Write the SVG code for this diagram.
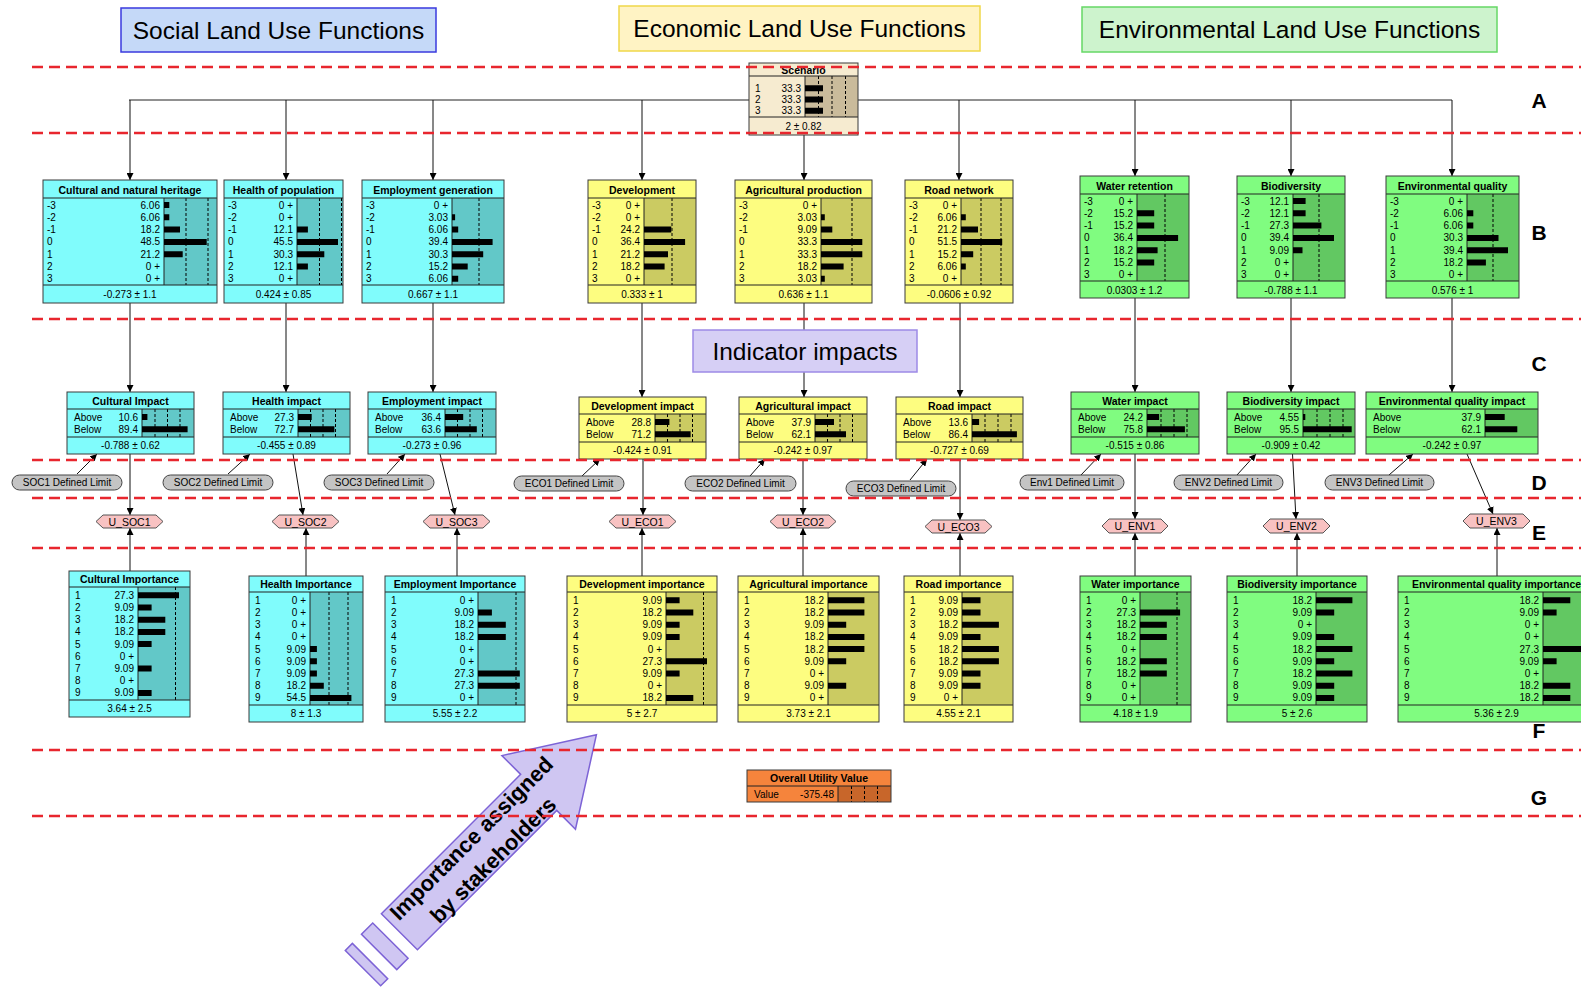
<svg xmlns="http://www.w3.org/2000/svg" width="1581" height="988" viewBox="0 0 1581 988">
<defs>
<marker id="ah" viewBox="0 0 10 10" refX="10" refY="5" markerWidth="7" markerHeight="7" orient="auto" markerUnits="userSpaceOnUse"><path d="M0,0 L10,5 L0,10 z" fill="#000"/></marker>
<style>
.t{font-family:"Liberation Sans",Arial,sans-serif;font-size:10px;fill:#000}
.tb{font-weight:bold;font-size:10.5px;text-anchor:middle}
.r{text-anchor:end}
.m{text-anchor:middle}
.nb{fill:none;stroke:#3a3a3a;stroke-width:1}
.soc{fill:#80fcfc}.socd{fill:#62c8c8}
.eco{fill:#fdfd80}.ecod{fill:#cbcb62}
.env{fill:#80fc80}.envd{fill:#62c862}
.ln{stroke:#222;stroke-width:1;fill:none}
.dl{stroke:#000;stroke-width:1;stroke-dasharray:3 2;fill:none}
.bar{fill:#000}
.cn{stroke:#111;stroke-width:1;fill:none;marker-end:url(#ah)}
.red{stroke:#e8262e;stroke-width:2.5;stroke-dasharray:11 6;fill:none}
.hex{fill:#f8c2c2;stroke:#555;stroke-width:1}
.pill{fill:#c4c4c4;stroke:#444;stroke-width:1}
.hd{font-family:"Liberation Sans",Arial,sans-serif;font-size:24.5px;text-anchor:middle;fill:#000}
.lt{font-family:"Liberation Sans",Arial,sans-serif;font-size:21px;font-weight:bold;text-anchor:middle;fill:#000}
.ut{font-family:"Liberation Sans",Arial,sans-serif;font-size:10.5px;text-anchor:middle;fill:#000}
</style>
</defs>
<rect width="1581" height="988" fill="#fff"/>

<g id="connectors">
<path class="ln" d="M129,100H1452"/>
<path class="cn" d="M130,100V180"/>
<path class="cn" d="M286,100V180"/>
<path class="cn" d="M433,100V180"/>
<path class="cn" d="M642,100V180"/>
<path class="cn" d="M804,135V180"/>
<path class="cn" d="M959,100V180"/>
<path class="cn" d="M1135,100V176"/>
<path class="cn" d="M1291,100V176"/>
<path class="cn" d="M1452,100V176"/>
<path class="cn" d="M130,303V392"/>
<path class="cn" d="M286,303V392"/>
<path class="cn" d="M433,303V392"/>
<path class="cn" d="M642,303V397"/>
<path class="cn" d="M804,303V397"/>
<path class="cn" d="M960,303V397"/>
<path class="cn" d="M1135,298V392"/>
<path class="cn" d="M1291,298V392"/>
<path class="cn" d="M1452,298V392"/>
<path class="cn" d="M130,454V515"/>
<path class="cn" d="M293,454L303,515"/>
<path class="cn" d="M440,454L455,515"/>
<path class="cn" d="M643,459V515"/>
<path class="cn" d="M803,459V515"/>
<path class="cn" d="M960,459V520"/>
<path class="cn" d="M1135,454V519"/>
<path class="cn" d="M1292.5,454L1296,519"/>
<path class="cn" d="M1467,454L1493,514"/>
<path class="cn" d="M130,571V528"/>
<path class="cn" d="M306,576V528"/>
<path class="cn" d="M457,576V528"/>
<path class="cn" d="M642,576V528"/>
<path class="cn" d="M803,576V528"/>
<path class="cn" d="M960,576V533"/>
<path class="cn" d="M1135,576V533"/>
<path class="cn" d="M1297,576V533"/>
<path class="cn" d="M1497,576V528"/>
<path class="cn" d="M77,474L97,454"/>
<path class="cn" d="M228,474L250,454"/>
<path class="cn" d="M387,474L405,454"/>
<path class="cn" d="M582,476L600,459"/>
<path class="cn" d="M750,476L765,459"/>
<path class="cn" d="M910,480L927,459"/>
<path class="cn" d="M1081,475L1101,454"/>
<path class="cn" d="M1237,475L1256,454"/>
<path class="cn" d="M1389,475L1413,454"/>
</g>

<g id="scenario" transform="translate(749,63)">
<rect width="109" height="72" fill="#f6ebd0"/>
<rect x="56" y="13" width="53" height="41" fill="#cabb9b"/>
<path class="dl" d="M69.5,13V54M83,13V54M96.5,13V54"/>
<path class="ln" d="M0,13H109M0,54H109M56,13V54"/>
<path class="bar" d="M56,22.3h18v6h-18zM56,33.5h18v6h-18zM56,44.7h18v6h-18z"/>
<text class="t tb" x="54.5" y="10.5">Scenario</text>
<text class="t" x="6" y="28.8">1<tspan x="6" dy="11.2">2</tspan><tspan x="6" dy="11.2">3</tspan></text>
<text class="t r" x="52" y="28.8">33.3<tspan x="52" dy="11.2">33.3</tspan><tspan x="52" dy="11.2">33.3</tspan></text>
<text class="t m" x="54.5" y="67">2 ± 0.82</text>
<rect class="nb" width="109" height="72"/>
</g>

<g id="cultural-heritage" transform="translate(43,180)">
<rect class="soc" width="174" height="123"/>
<rect class="socd" x="121" y="18" width="53" height="87"/>
<path class="dl" d="M143,18V105M165,18V105"/>
<path class="ln" d="M0,18H174M0,105H174M121,18V105"/>
<path class="bar" d="M121,22h5.3v6h-5.3zM121,34.3h5.3v6h-5.3zM121,46.6h16v6h-16zM121,58.9h42.7v6h-42.7zM121,71.2h18.7v6h-18.7z"/>
<text class="t tb" x="87" y="13.5">Cultural and natural heritage</text>
<text class="t" x="4" y="28.5">-3<tspan x="4" dy="12.3">-2</tspan><tspan x="4" dy="12.3">-1</tspan><tspan x="4" dy="12.3">0</tspan><tspan x="4" dy="12.3">1</tspan><tspan x="4" dy="12.3">2</tspan><tspan x="4" dy="12.3">3</tspan></text>
<text class="t r" x="117" y="28.5">6.06<tspan x="117" dy="12.3">6.06</tspan><tspan x="117" dy="12.3">18.2</tspan><tspan x="117" dy="12.3">48.5</tspan><tspan x="117" dy="12.3">21.2</tspan><tspan x="117" dy="12.3">0 +</tspan><tspan x="117" dy="12.3">0 +</tspan></text>
<text class="t m" x="87" y="118">-0.273 ± 1.1</text>
<rect class="nb" width="174" height="123"/>
</g>

<g id="health-population" transform="translate(224,180)">
<rect class="soc" width="119" height="123"/>
<rect class="socd" x="73" y="18" width="46" height="87"/>
<path class="dl" d="M95.5,18V105M117.5,18V105"/>
<path class="ln" d="M0,18H119M0,105H119M73,18V105"/>
<path class="bar" d="M73,46.6h10.9v6h-10.9zM73,58.9h41v6h-41zM73,71.2h27.3v6h-27.3zM73,83.5h10.9v6h-10.9z"/>
<text class="t tb" x="59.5" y="13.5">Health of population</text>
<text class="t" x="4" y="28.5">-3<tspan x="4" dy="12.3">-2</tspan><tspan x="4" dy="12.3">-1</tspan><tspan x="4" dy="12.3">0</tspan><tspan x="4" dy="12.3">1</tspan><tspan x="4" dy="12.3">2</tspan><tspan x="4" dy="12.3">3</tspan></text>
<text class="t r" x="69" y="28.5">0 +<tspan x="69" dy="12.3">0 +</tspan><tspan x="69" dy="12.3">12.1</tspan><tspan x="69" dy="12.3">45.5</tspan><tspan x="69" dy="12.3">30.3</tspan><tspan x="69" dy="12.3">12.1</tspan><tspan x="69" dy="12.3">0 +</tspan></text>
<text class="t m" x="59.5" y="118">0.424 ± 0.85</text>
<rect class="nb" width="119" height="123"/>
</g>

<g id="employment-generation" transform="translate(362,180)">
<rect class="soc" width="142" height="123"/>
<rect class="socd" x="90" y="18" width="52" height="87"/>
<path class="dl" d="M117,18V105"/>
<path class="ln" d="M0,18H142M0,105H142M90,18V105"/>
<path class="bar" d="M90,34.3h3.1v6h-3.1zM90,46.6h6.2v6h-6.2zM90,58.9h40.6v6h-40.6zM90,71.2h31.2v6h-31.2zM90,83.5h15.7v6h-15.7zM90,95.8h6.2v6h-6.2z"/>
<text class="t tb" x="71" y="13.5">Employment generation</text>
<text class="t" x="4" y="28.5">-3<tspan x="4" dy="12.3">-2</tspan><tspan x="4" dy="12.3">-1</tspan><tspan x="4" dy="12.3">0</tspan><tspan x="4" dy="12.3">1</tspan><tspan x="4" dy="12.3">2</tspan><tspan x="4" dy="12.3">3</tspan></text>
<text class="t r" x="86" y="28.5">0 +<tspan x="86" dy="12.3">3.03</tspan><tspan x="86" dy="12.3">6.06</tspan><tspan x="86" dy="12.3">39.4</tspan><tspan x="86" dy="12.3">30.3</tspan><tspan x="86" dy="12.3">15.2</tspan><tspan x="86" dy="12.3">6.06</tspan></text>
<text class="t m" x="71" y="118">0.667 ± 1.1</text>
<rect class="nb" width="142" height="123"/>
</g>

<g id="development" transform="translate(588,180)">
<rect class="eco" width="108" height="123"/>
<rect class="ecod" x="56" y="18" width="52" height="87"/>
<path class="dl" d="M84,18V105"/>
<path class="ln" d="M0,18H108M0,105H108M56,18V105"/>
<path class="bar" d="M56,46.6h27.3v6h-27.3zM56,58.9h41.1v6h-41.1zM56,71.2h24v6h-24zM56,83.5h20.6v6h-20.6z"/>
<text class="t tb" x="54" y="13.5">Development</text>
<text class="t" x="4" y="28.5">-3<tspan x="4" dy="12.3">-2</tspan><tspan x="4" dy="12.3">-1</tspan><tspan x="4" dy="12.3">0</tspan><tspan x="4" dy="12.3">1</tspan><tspan x="4" dy="12.3">2</tspan><tspan x="4" dy="12.3">3</tspan></text>
<text class="t r" x="52" y="28.5">0 +<tspan x="52" dy="12.3">0 +</tspan><tspan x="52" dy="12.3">24.2</tspan><tspan x="52" dy="12.3">36.4</tspan><tspan x="52" dy="12.3">21.2</tspan><tspan x="52" dy="12.3">18.2</tspan><tspan x="52" dy="12.3">0 +</tspan></text>
<text class="t m" x="54" y="118">0.333 ± 1</text>
<rect class="nb" width="108" height="123"/>
</g>

<g id="agricultural-production" transform="translate(735,180)">
<rect class="eco" width="137" height="123"/>
<rect class="ecod" x="86" y="18" width="51" height="87"/>
<path class="dl" d="M117,18V105"/>
<path class="ln" d="M0,18H137M0,105H137M86,18V105"/>
<path class="bar" d="M86,34.3h3.8v6h-3.8zM86,46.6h11.3v6h-11.3zM86,58.9h41.3v6h-41.3zM86,71.2h41.3v6h-41.3zM86,83.5h22.6v6h-22.6zM86,95.8h3.8v6h-3.8z"/>
<text class="t tb" x="68.5" y="13.5">Agricultural production</text>
<text class="t" x="4" y="28.5">-3<tspan x="4" dy="12.3">-2</tspan><tspan x="4" dy="12.3">-1</tspan><tspan x="4" dy="12.3">0</tspan><tspan x="4" dy="12.3">1</tspan><tspan x="4" dy="12.3">2</tspan><tspan x="4" dy="12.3">3</tspan></text>
<text class="t r" x="82" y="28.5">0 +<tspan x="82" dy="12.3">3.03</tspan><tspan x="82" dy="12.3">9.09</tspan><tspan x="82" dy="12.3">33.3</tspan><tspan x="82" dy="12.3">33.3</tspan><tspan x="82" dy="12.3">18.2</tspan><tspan x="82" dy="12.3">3.03</tspan></text>
<text class="t m" x="68.5" y="118">0.636 ± 1.1</text>
<rect class="nb" width="137" height="123"/>
</g>

<g id="road-network" transform="translate(905,180)">
<rect class="eco" width="108" height="123"/>
<rect class="ecod" x="56" y="18" width="52" height="87"/>
<path class="dl" d="M76,18V105M96,18V105"/>
<path class="ln" d="M0,18H108M0,105H108M56,18V105"/>
<path class="bar" d="M56,34.3h4.8v6h-4.8zM56,46.6h17v6h-17zM56,58.9h41.2v6h-41.2zM56,71.2h12.2v6h-12.2zM56,83.5h4.8v6h-4.8z"/>
<text class="t tb" x="54" y="13.5">Road network</text>
<text class="t" x="4" y="28.5">-3<tspan x="4" dy="12.3">-2</tspan><tspan x="4" dy="12.3">-1</tspan><tspan x="4" dy="12.3">0</tspan><tspan x="4" dy="12.3">1</tspan><tspan x="4" dy="12.3">2</tspan><tspan x="4" dy="12.3">3</tspan></text>
<text class="t r" x="52" y="28.5">0 +<tspan x="52" dy="12.3">6.06</tspan><tspan x="52" dy="12.3">21.2</tspan><tspan x="52" dy="12.3">51.5</tspan><tspan x="52" dy="12.3">15.2</tspan><tspan x="52" dy="12.3">6.06</tspan><tspan x="52" dy="12.3">0 +</tspan></text>
<text class="t m" x="54" y="118">-0.0606 ± 0.92</text>
<rect class="nb" width="108" height="123"/>
</g>

<g id="water-retention" transform="translate(1080,176)">
<rect class="env" width="109" height="122"/>
<rect class="envd" x="57" y="18" width="52" height="87"/>
<path class="dl" d="M85,18V105"/>
<path class="ln" d="M0,18H109M0,105H109M57,18V105"/>
<path class="bar" d="M57,34.3h17.2v6h-17.2zM57,46.6h17.2v6h-17.2zM57,58.9h41.1v6h-41.1zM57,71.2h20.6v6h-20.6zM57,83.5h17.2v6h-17.2z"/>
<text class="t tb" x="54.5" y="13.5">Water retention</text>
<text class="t" x="4" y="28.5">-3<tspan x="4" dy="12.3">-2</tspan><tspan x="4" dy="12.3">-1</tspan><tspan x="4" dy="12.3">0</tspan><tspan x="4" dy="12.3">1</tspan><tspan x="4" dy="12.3">2</tspan><tspan x="4" dy="12.3">3</tspan></text>
<text class="t r" x="53" y="28.5">0 +<tspan x="53" dy="12.3">15.2</tspan><tspan x="53" dy="12.3">15.2</tspan><tspan x="53" dy="12.3">36.4</tspan><tspan x="53" dy="12.3">18.2</tspan><tspan x="53" dy="12.3">15.2</tspan><tspan x="53" dy="12.3">0 +</tspan></text>
<text class="t m" x="54.5" y="117.5">0.0303 ± 1.2</text>
<rect class="nb" width="109" height="122"/>
</g>

<g id="biodiversity" transform="translate(1237,176)">
<rect class="env" width="108" height="122"/>
<rect class="envd" x="56" y="18" width="52" height="87"/>
<path class="dl" d="M82,18V105"/>
<path class="ln" d="M0,18H108M0,105H108M56,18V105"/>
<path class="bar" d="M56,22h12.6v6h-12.6zM56,34.3h12.6v6h-12.6zM56,46.6h28.4v6h-28.4zM56,58.9h41v6h-41zM56,71.2h9.5v6h-9.5z"/>
<text class="t tb" x="54" y="13.5">Biodiversity</text>
<text class="t" x="4" y="28.5">-3<tspan x="4" dy="12.3">-2</tspan><tspan x="4" dy="12.3">-1</tspan><tspan x="4" dy="12.3">0</tspan><tspan x="4" dy="12.3">1</tspan><tspan x="4" dy="12.3">2</tspan><tspan x="4" dy="12.3">3</tspan></text>
<text class="t r" x="52" y="28.5">12.1<tspan x="52" dy="12.3">12.1</tspan><tspan x="52" dy="12.3">27.3</tspan><tspan x="52" dy="12.3">39.4</tspan><tspan x="52" dy="12.3">9.09</tspan><tspan x="52" dy="12.3">0 +</tspan><tspan x="52" dy="12.3">0 +</tspan></text>
<text class="t m" x="54" y="117.5">-0.788 ± 1.1</text>
<rect class="nb" width="108" height="122"/>
</g>

<g id="environmental-quality" transform="translate(1386,176)">
<rect class="env" width="133" height="122"/>
<rect class="envd" x="81" y="18" width="52" height="87"/>
<path class="dl" d="M107,18V105"/>
<path class="ln" d="M0,18H133M0,105H133M81,18V105"/>
<path class="bar" d="M81,34.3h6.3v6h-6.3zM81,46.6h6.3v6h-6.3zM81,58.9h31.5v6h-31.5zM81,71.2h41v6h-41zM81,83.5h18.9v6h-18.9z"/>
<text class="t tb" x="66.5" y="13.5">Environmental quality</text>
<text class="t" x="4" y="28.5">-3<tspan x="4" dy="12.3">-2</tspan><tspan x="4" dy="12.3">-1</tspan><tspan x="4" dy="12.3">0</tspan><tspan x="4" dy="12.3">1</tspan><tspan x="4" dy="12.3">2</tspan><tspan x="4" dy="12.3">3</tspan></text>
<text class="t r" x="77" y="28.5">0 +<tspan x="77" dy="12.3">6.06</tspan><tspan x="77" dy="12.3">6.06</tspan><tspan x="77" dy="12.3">30.3</tspan><tspan x="77" dy="12.3">39.4</tspan><tspan x="77" dy="12.3">18.2</tspan><tspan x="77" dy="12.3">0 +</tspan></text>
<text class="t m" x="66.5" y="117.5">0.576 ± 1</text>
<rect class="nb" width="133" height="122"/>
</g>

<g id="cultural-impact" transform="translate(67,392)">
<rect class="soc" width="127" height="62"/>
<rect class="socd" x="75" y="17" width="52" height="28"/>
<path class="dl" d="M88,17V45M100.5,17V45M113,17V45"/>
<path class="ln" d="M0,17H127M0,45H127M75,17V45"/>
<path class="bar" d="M75,22h5.4v6h-5.4zM75,34.3h45.6v6h-45.6z"/>
<text class="t tb" x="63.5" y="12.5">Cultural Impact</text>
<text class="t" x="7" y="28.5">Above<tspan x="7" dy="12.3">Below</tspan></text>
<text class="t r" x="71" y="28.5">10.6<tspan x="71" dy="12.3">89.4</tspan></text>
<text class="t m" x="63.5" y="56.5">-0.788 ± 0.62</text>
<rect class="nb" width="127" height="62"/>
</g>

<g id="health-impact" transform="translate(223,392)">
<rect class="soc" width="127" height="62"/>
<rect class="socd" x="75" y="17" width="52" height="28"/>
<path class="dl" d="M87.5,17V45M100,17V45M112.5,17V45"/>
<path class="ln" d="M0,17H127M0,45H127M75,17V45"/>
<path class="bar" d="M75,22h13.7v6h-13.7zM75,34.3h36.4v6h-36.4z"/>
<text class="t tb" x="63.5" y="12.5">Health impact</text>
<text class="t" x="7" y="28.5">Above<tspan x="7" dy="12.3">Below</tspan></text>
<text class="t r" x="71" y="28.5">27.3<tspan x="71" dy="12.3">72.7</tspan></text>
<text class="t m" x="63.5" y="56.5">-0.455 ± 0.89</text>
<rect class="nb" width="127" height="62"/>
</g>

<g id="employment-impact" transform="translate(368,392)">
<rect class="soc" width="128" height="62"/>
<rect class="socd" x="77" y="17" width="51" height="28"/>
<path class="dl" d="M89.5,17V45M102,17V45M114.5,17V45"/>
<path class="ln" d="M0,17H128M0,45H128M77,17V45"/>
<path class="bar" d="M77,22h18.2v6h-18.2zM77,34.3h31.8v6h-31.8z"/>
<text class="t tb" x="64" y="12.5">Employment impact</text>
<text class="t" x="7" y="28.5">Above<tspan x="7" dy="12.3">Below</tspan></text>
<text class="t r" x="73" y="28.5">36.4<tspan x="73" dy="12.3">63.6</tspan></text>
<text class="t m" x="64" y="56.5">-0.273 ± 0.96</text>
<rect class="nb" width="128" height="62"/>
</g>

<g id="development-impact" transform="translate(579,397)">
<rect class="eco" width="127" height="62"/>
<rect class="ecod" x="76" y="17" width="51" height="28"/>
<path class="dl" d="M88.5,17V45M101,17V45M113.5,17V45"/>
<path class="ln" d="M0,17H127M0,45H127M76,17V45"/>
<path class="bar" d="M76,22h14.4v6h-14.4zM76,34.3h35.6v6h-35.6z"/>
<text class="t tb" x="63.5" y="12.5">Development impact</text>
<text class="t" x="7" y="28.5">Above<tspan x="7" dy="12.3">Below</tspan></text>
<text class="t r" x="72" y="28.5">28.8<tspan x="72" dy="12.3">71.2</tspan></text>
<text class="t m" x="63.5" y="56.5">-0.424 ± 0.91</text>
<rect class="nb" width="127" height="62"/>
</g>

<g id="agricultural-impact" transform="translate(739,397)">
<rect class="eco" width="128" height="62"/>
<rect class="ecod" x="76" y="17" width="52" height="28"/>
<path class="dl" d="M88.5,17V45M101,17V45M113.5,17V45"/>
<path class="ln" d="M0,17H128M0,45H128M76,17V45"/>
<path class="bar" d="M76,22h19v6h-19zM76,34.3h31v6h-31z"/>
<text class="t tb" x="64" y="12.5">Agricultural impact</text>
<text class="t" x="7" y="28.5">Above<tspan x="7" dy="12.3">Below</tspan></text>
<text class="t r" x="72" y="28.5">37.9<tspan x="72" dy="12.3">62.1</tspan></text>
<text class="t m" x="64" y="56.5">-0.242 ± 0.97</text>
<rect class="nb" width="128" height="62"/>
</g>

<g id="road-impact" transform="translate(896,397)">
<rect class="eco" width="127" height="62"/>
<rect class="ecod" x="76" y="17" width="51" height="28"/>
<path class="dl" d="M89,17V45M102,17V45M115,17V45"/>
<path class="ln" d="M0,17H127M0,45H127M76,17V45"/>
<path class="bar" d="M76,22h7.1v6h-7.1zM76,34.3h44.9v6h-44.9z"/>
<text class="t tb" x="63.5" y="12.5">Road impact</text>
<text class="t" x="7" y="28.5">Above<tspan x="7" dy="12.3">Below</tspan></text>
<text class="t r" x="72" y="28.5">13.6<tspan x="72" dy="12.3">86.4</tspan></text>
<text class="t m" x="63.5" y="56.5">-0.727 ± 0.69</text>
<rect class="nb" width="127" height="62"/>
</g>

<g id="water-impact" transform="translate(1071,392)">
<rect class="env" width="128" height="62"/>
<rect class="envd" x="76" y="17" width="52" height="28"/>
<path class="dl" d="M90,17V45M103,17V45M116,17V45"/>
<path class="ln" d="M0,17H128M0,45H128M76,17V45"/>
<path class="bar" d="M76,22h12.1v6h-12.1zM76,34.3h37.9v6h-37.9z"/>
<text class="t tb" x="64" y="12.5">Water impact</text>
<text class="t" x="7" y="28.5">Above<tspan x="7" dy="12.3">Below</tspan></text>
<text class="t r" x="72" y="28.5">24.2<tspan x="72" dy="12.3">75.8</tspan></text>
<text class="t m" x="64" y="56.5">-0.515 ± 0.86</text>
<rect class="nb" width="128" height="62"/>
</g>

<g id="biodiversity-impact" transform="translate(1227,392)">
<rect class="env" width="128" height="62"/>
<rect class="envd" x="76" y="17" width="52" height="28"/>
<path class="dl" d="M90,17V45M103,17V45M116,17V45"/>
<path class="ln" d="M0,17H128M0,45H128M76,17V45"/>
<path class="bar" d="M76,22h2.3v6h-2.3zM76,34.3h48.7v6h-48.7z"/>
<text class="t tb" x="64" y="12.5">Biodiversity impact</text>
<text class="t" x="7" y="28.5">Above<tspan x="7" dy="12.3">Below</tspan></text>
<text class="t r" x="72" y="28.5">4.55<tspan x="72" dy="12.3">95.5</tspan></text>
<text class="t m" x="64" y="56.5">-0.909 ± 0.42</text>
<rect class="nb" width="128" height="62"/>
</g>

<g id="environmental-quality-impact" transform="translate(1366,392)">
<rect class="env" width="172" height="62"/>
<rect class="envd" x="119" y="17" width="53" height="28"/>
<path class="ln" d="M0,17H172M0,45H172M119,17V45"/>
<path class="bar" d="M119,22h19.7v6h-19.7zM119,34.3h32.3v6h-32.3z"/>
<text class="t tb" x="86" y="12.5">Environmental quality impact</text>
<text class="t" x="7" y="28.5">Above<tspan x="7" dy="12.3">Below</tspan></text>
<text class="t r" x="115" y="28.5">37.9<tspan x="115" dy="12.3">62.1</tspan></text>
<text class="t m" x="86" y="56.5">-0.242 ± 0.97</text>
<rect class="nb" width="172" height="62"/>
</g>

<g id="soc1-limit"><rect class="pill" x="12" y="475" width="110" height="15" rx="7.5"/><text class="t m" x="67" y="486">SOC1 Defined Limit</text></g>
<g id="soc2-limit"><rect class="pill" x="163" y="475" width="110" height="15" rx="7.5"/><text class="t m" x="218" y="486">SOC2 Defined Limit</text></g>
<g id="soc3-limit"><rect class="pill" x="324" y="475" width="110" height="15" rx="7.5"/><text class="t m" x="379" y="486">SOC3 Defined Limit</text></g>
<g id="eco1-limit"><rect class="pill" x="514" y="476" width="110" height="15" rx="7.5"/><text class="t m" x="569" y="487">ECO1 Defined Limit</text></g>
<g id="eco2-limit"><rect class="pill" x="685" y="476" width="111" height="15" rx="7.5"/><text class="t m" x="740.5" y="487">ECO2 Defined Limit</text></g>
<g id="eco3-limit"><rect class="pill" x="846" y="481" width="110" height="15" rx="7.5"/><text class="t m" x="901" y="492">ECO3 Defined Limit</text></g>
<g id="env1-limit"><rect class="pill" x="1020" y="475" width="104" height="15" rx="7.5"/><text class="t m" x="1072" y="486">Env1 Defined Limit</text></g>
<g id="env2-limit"><rect class="pill" x="1174" y="475" width="109" height="15" rx="7.5"/><text class="t m" x="1228.5" y="486">ENV2 Defined Limit</text></g>
<g id="env3-limit"><rect class="pill" x="1325" y="475" width="109" height="15" rx="7.5"/><text class="t m" x="1379.5" y="486">ENV3 Defined Limit</text></g>

<g id="u-soc1"><polygon class="hex" points="96,521.5 103,515 156,515 163,521.5 156,528 103,528"/><text class="ut" x="129.5" y="525.5">U_SOC1</text></g>
<g id="u-soc2"><polygon class="hex" points="272,521.5 279,515 332,515 339,521.5 332,528 279,528"/><text class="ut" x="305.5" y="525.5">U_SOC2</text></g>
<g id="u-soc3"><polygon class="hex" points="423,521.5 430,515 483,515 490,521.5 483,528 430,528"/><text class="ut" x="456.5" y="525.5">U_SOC3</text></g>
<g id="u-eco1"><polygon class="hex" points="609,521.5 616,515 669,515 676,521.5 669,528 616,528"/><text class="ut" x="642.5" y="525.5">U_ECO1</text></g>
<g id="u-eco2"><polygon class="hex" points="770,521.5 777,515 829,515 836,521.5 829,528 777,528"/><text class="ut" x="803" y="525.5">U_ECO2</text></g>
<g id="u-eco3"><polygon class="hex" points="925,526.5 932,520 985,520 992,526.5 985,533 932,533"/><text class="ut" x="958.5" y="530.5">U_ECO3</text></g>
<g id="u-env1"><polygon class="hex" points="1102,526 1109,519 1161,519 1168,526 1161,533 1109,533"/><text class="ut" x="1135" y="530">U_ENV1</text></g>
<g id="u-env2"><polygon class="hex" points="1263,526 1270,519 1323,519 1330,526 1323,533 1270,533"/><text class="ut" x="1296.5" y="530">U_ENV2</text></g>
<g id="u-env3"><polygon class="hex" points="1463,521 1470,514 1523,514 1530,521 1523,528 1470,528"/><text class="ut" x="1496.5" y="525">U_ENV3</text></g>

<g id="cultural-importance" transform="translate(69,571)">
<rect class="soc" width="121" height="146"/>
<rect class="socd" x="69" y="16" width="52" height="113"/>
<path class="dl" d="M106.5,16V129"/>
<path class="ln" d="M0,16H121M0,129H121M69,16V129"/>
<path class="bar" d="M69,21.3h41v6h-41zM69,33.5h13.6v6h-13.6zM69,45.7h27.3v6h-27.3zM69,57.9h27.3v6h-27.3zM69,70.1h13.6v6h-13.6zM69,94.5h13.6v6h-13.6zM69,118.9h13.6v6h-13.6z"/>
<text class="t tb" x="60.5" y="12">Cultural Importance</text>
<text class="t" x="6" y="27.8">1<tspan x="6" dy="12.2">2</tspan><tspan x="6" dy="12.2">3</tspan><tspan x="6" dy="12.2">4</tspan><tspan x="6" dy="12.2">5</tspan><tspan x="6" dy="12.2">6</tspan><tspan x="6" dy="12.2">7</tspan><tspan x="6" dy="12.2">8</tspan><tspan x="6" dy="12.2">9</tspan></text>
<text class="t r" x="65" y="27.8">27.3<tspan x="65" dy="12.2">9.09</tspan><tspan x="65" dy="12.2">18.2</tspan><tspan x="65" dy="12.2">18.2</tspan><tspan x="65" dy="12.2">9.09</tspan><tspan x="65" dy="12.2">0 +</tspan><tspan x="65" dy="12.2">9.09</tspan><tspan x="65" dy="12.2">0 +</tspan><tspan x="65" dy="12.2">9.09</tspan></text>
<text class="t m" x="60.5" y="141">3.64 ± 2.5</text>
<rect class="nb" width="121" height="146"/>
</g>

<g id="health-importance" transform="translate(249,576)">
<rect class="soc" width="114" height="146"/>
<rect class="socd" x="61" y="16" width="53" height="113"/>
<path class="dl" d="M80,16V129M99,16V129"/>
<path class="ln" d="M0,16H114M0,129H114M61,16V129"/>
<path class="bar" d="M61,70.1h6.9v6h-6.9zM61,82.3h6.9v6h-6.9zM61,94.5h6.9v6h-6.9zM61,106.7h13.8v6h-13.8zM61,118.9h41.4v6h-41.4z"/>
<text class="t tb" x="57" y="12">Health Importance</text>
<text class="t" x="6" y="27.8">1<tspan x="6" dy="12.2">2</tspan><tspan x="6" dy="12.2">3</tspan><tspan x="6" dy="12.2">4</tspan><tspan x="6" dy="12.2">5</tspan><tspan x="6" dy="12.2">6</tspan><tspan x="6" dy="12.2">7</tspan><tspan x="6" dy="12.2">8</tspan><tspan x="6" dy="12.2">9</tspan></text>
<text class="t r" x="57" y="27.8">0 +<tspan x="57" dy="12.2">0 +</tspan><tspan x="57" dy="12.2">0 +</tspan><tspan x="57" dy="12.2">0 +</tspan><tspan x="57" dy="12.2">9.09</tspan><tspan x="57" dy="12.2">9.09</tspan><tspan x="57" dy="12.2">9.09</tspan><tspan x="57" dy="12.2">18.2</tspan><tspan x="57" dy="12.2">54.5</tspan></text>
<text class="t m" x="57" y="141">8 ± 1.3</text>
<rect class="nb" width="114" height="146"/>
</g>

<g id="employment-importance" transform="translate(385,576)">
<rect class="soc" width="140" height="146"/>
<rect class="socd" x="93" y="16" width="47" height="113"/>
<path class="dl" d="M131,16V129"/>
<path class="ln" d="M0,16H140M0,129H140M93,16V129"/>
<path class="bar" d="M93,33.5h13.9v6h-13.9zM93,45.7h27.8v6h-27.8zM93,57.9h27.8v6h-27.8zM93,94.5h41.8v6h-41.8zM93,106.7h41.8v6h-41.8z"/>
<text class="t tb" x="70" y="12">Employment Importance</text>
<text class="t" x="6" y="27.8">1<tspan x="6" dy="12.2">2</tspan><tspan x="6" dy="12.2">3</tspan><tspan x="6" dy="12.2">4</tspan><tspan x="6" dy="12.2">5</tspan><tspan x="6" dy="12.2">6</tspan><tspan x="6" dy="12.2">7</tspan><tspan x="6" dy="12.2">8</tspan><tspan x="6" dy="12.2">9</tspan></text>
<text class="t r" x="89" y="27.8">0 +<tspan x="89" dy="12.2">9.09</tspan><tspan x="89" dy="12.2">18.2</tspan><tspan x="89" dy="12.2">18.2</tspan><tspan x="89" dy="12.2">0 +</tspan><tspan x="89" dy="12.2">0 +</tspan><tspan x="89" dy="12.2">27.3</tspan><tspan x="89" dy="12.2">27.3</tspan><tspan x="89" dy="12.2">0 +</tspan></text>
<text class="t m" x="70" y="141">5.55 ± 2.2</text>
<rect class="nb" width="140" height="146"/>
</g>

<g id="development-importance" transform="translate(567,576)">
<rect class="eco" width="150" height="146"/>
<rect class="ecod" x="99" y="16" width="51" height="113"/>
<path class="dl" d="M136.5,16V129"/>
<path class="ln" d="M0,16H150M0,129H150M99,16V129"/>
<path class="bar" d="M99,21.3h13.6v6h-13.6zM99,33.5h27.3v6h-27.3zM99,45.7h13.6v6h-13.6zM99,57.9h13.6v6h-13.6zM99,82.3h41v6h-41zM99,94.5h13.6v6h-13.6zM99,118.9h27.3v6h-27.3z"/>
<text class="t tb" x="75" y="12">Development importance</text>
<text class="t" x="6" y="27.8">1<tspan x="6" dy="12.2">2</tspan><tspan x="6" dy="12.2">3</tspan><tspan x="6" dy="12.2">4</tspan><tspan x="6" dy="12.2">5</tspan><tspan x="6" dy="12.2">6</tspan><tspan x="6" dy="12.2">7</tspan><tspan x="6" dy="12.2">8</tspan><tspan x="6" dy="12.2">9</tspan></text>
<text class="t r" x="95" y="27.8">9.09<tspan x="95" dy="12.2">18.2</tspan><tspan x="95" dy="12.2">9.09</tspan><tspan x="95" dy="12.2">9.09</tspan><tspan x="95" dy="12.2">0 +</tspan><tspan x="95" dy="12.2">27.3</tspan><tspan x="95" dy="12.2">9.09</tspan><tspan x="95" dy="12.2">0 +</tspan><tspan x="95" dy="12.2">18.2</tspan></text>
<text class="t m" x="75" y="141">5 ± 2.7</text>
<rect class="nb" width="150" height="146"/>
</g>

<g id="agricultural-importance" transform="translate(738,576)">
<rect class="eco" width="141" height="146"/>
<rect class="ecod" x="90" y="16" width="51" height="113"/>
<path class="ln" d="M0,16H141M0,129H141M90,16V129"/>
<path class="bar" d="M90,21.3h36.4v6h-36.4zM90,33.5h36.4v6h-36.4zM90,45.7h18.2v6h-18.2zM90,57.9h36.4v6h-36.4zM90,70.1h36.4v6h-36.4zM90,82.3h18.2v6h-18.2zM90,106.7h18.2v6h-18.2z"/>
<text class="t tb" x="70.5" y="12">Agricultural importance</text>
<text class="t" x="6" y="27.8">1<tspan x="6" dy="12.2">2</tspan><tspan x="6" dy="12.2">3</tspan><tspan x="6" dy="12.2">4</tspan><tspan x="6" dy="12.2">5</tspan><tspan x="6" dy="12.2">6</tspan><tspan x="6" dy="12.2">7</tspan><tspan x="6" dy="12.2">8</tspan><tspan x="6" dy="12.2">9</tspan></text>
<text class="t r" x="86" y="27.8">18.2<tspan x="86" dy="12.2">18.2</tspan><tspan x="86" dy="12.2">9.09</tspan><tspan x="86" dy="12.2">18.2</tspan><tspan x="86" dy="12.2">18.2</tspan><tspan x="86" dy="12.2">9.09</tspan><tspan x="86" dy="12.2">0 +</tspan><tspan x="86" dy="12.2">9.09</tspan><tspan x="86" dy="12.2">0 +</tspan></text>
<text class="t m" x="70.5" y="141">3.73 ± 2.1</text>
<rect class="nb" width="141" height="146"/>
</g>

<g id="road-importance" transform="translate(904,576)">
<rect class="eco" width="109" height="146"/>
<rect class="ecod" x="58" y="16" width="51" height="113"/>
<path class="ln" d="M0,16H109M0,129H109M58,16V129"/>
<path class="bar" d="M58,21.3h18.5v6h-18.5zM58,33.5h18.5v6h-18.5zM58,45.7h36.9v6h-36.9zM58,57.9h18.5v6h-18.5zM58,70.1h36.9v6h-36.9zM58,82.3h36.9v6h-36.9zM58,94.5h18.5v6h-18.5zM58,106.7h18.5v6h-18.5z"/>
<text class="t tb" x="54.5" y="12">Road importance</text>
<text class="t" x="6" y="27.8">1<tspan x="6" dy="12.2">2</tspan><tspan x="6" dy="12.2">3</tspan><tspan x="6" dy="12.2">4</tspan><tspan x="6" dy="12.2">5</tspan><tspan x="6" dy="12.2">6</tspan><tspan x="6" dy="12.2">7</tspan><tspan x="6" dy="12.2">8</tspan><tspan x="6" dy="12.2">9</tspan></text>
<text class="t r" x="54" y="27.8">9.09<tspan x="54" dy="12.2">9.09</tspan><tspan x="54" dy="12.2">18.2</tspan><tspan x="54" dy="12.2">9.09</tspan><tspan x="54" dy="12.2">18.2</tspan><tspan x="54" dy="12.2">18.2</tspan><tspan x="54" dy="12.2">9.09</tspan><tspan x="54" dy="12.2">9.09</tspan><tspan x="54" dy="12.2">0 +</tspan></text>
<text class="t m" x="54.5" y="141">4.55 ± 2.1</text>
<rect class="nb" width="109" height="146"/>
</g>

<g id="water-importance" transform="translate(1080,576)">
<rect class="env" width="111" height="146"/>
<rect class="envd" x="60" y="16" width="51" height="113"/>
<path class="dl" d="M97,16V129"/>
<path class="ln" d="M0,16H111M0,129H111M60,16V129"/>
<path class="bar" d="M60,33.5h40.1v6h-40.1zM60,45.7h26.8v6h-26.8zM60,57.9h26.8v6h-26.8zM60,82.3h26.8v6h-26.8zM60,94.5h26.8v6h-26.8z"/>
<text class="t tb" x="55.5" y="12">Water importance</text>
<text class="t" x="6" y="27.8">1<tspan x="6" dy="12.2">2</tspan><tspan x="6" dy="12.2">3</tspan><tspan x="6" dy="12.2">4</tspan><tspan x="6" dy="12.2">5</tspan><tspan x="6" dy="12.2">6</tspan><tspan x="6" dy="12.2">7</tspan><tspan x="6" dy="12.2">8</tspan><tspan x="6" dy="12.2">9</tspan></text>
<text class="t r" x="56" y="27.8">0 +<tspan x="56" dy="12.2">27.3</tspan><tspan x="56" dy="12.2">18.2</tspan><tspan x="56" dy="12.2">18.2</tspan><tspan x="56" dy="12.2">0 +</tspan><tspan x="56" dy="12.2">18.2</tspan><tspan x="56" dy="12.2">18.2</tspan><tspan x="56" dy="12.2">0 +</tspan><tspan x="56" dy="12.2">0 +</tspan></text>
<text class="t m" x="55.5" y="141">4.18 ± 1.9</text>
<rect class="nb" width="111" height="146"/>
</g>

<g id="biodiversity-importance" transform="translate(1227,576)">
<rect class="env" width="140" height="146"/>
<rect class="envd" x="89" y="16" width="51" height="113"/>
<path class="ln" d="M0,16H140M0,129H140M89,16V129"/>
<path class="bar" d="M89,21.3h36.4v6h-36.4zM89,33.5h18.2v6h-18.2zM89,57.9h18.2v6h-18.2zM89,70.1h36.4v6h-36.4zM89,82.3h18.2v6h-18.2zM89,94.5h36.4v6h-36.4zM89,106.7h18.2v6h-18.2zM89,118.9h18.2v6h-18.2z"/>
<text class="t tb" x="70" y="12">Biodiversity importance</text>
<text class="t" x="6" y="27.8">1<tspan x="6" dy="12.2">2</tspan><tspan x="6" dy="12.2">3</tspan><tspan x="6" dy="12.2">4</tspan><tspan x="6" dy="12.2">5</tspan><tspan x="6" dy="12.2">6</tspan><tspan x="6" dy="12.2">7</tspan><tspan x="6" dy="12.2">8</tspan><tspan x="6" dy="12.2">9</tspan></text>
<text class="t r" x="85" y="27.8">18.2<tspan x="85" dy="12.2">9.09</tspan><tspan x="85" dy="12.2">0 +</tspan><tspan x="85" dy="12.2">9.09</tspan><tspan x="85" dy="12.2">18.2</tspan><tspan x="85" dy="12.2">9.09</tspan><tspan x="85" dy="12.2">18.2</tspan><tspan x="85" dy="12.2">9.09</tspan><tspan x="85" dy="12.2">9.09</tspan></text>
<text class="t m" x="70" y="141">5 ± 2.6</text>
<rect class="nb" width="140" height="146"/>
</g>

<g id="environmental-quality-importance" transform="translate(1398,576)">
<rect class="env" width="197" height="146"/>
<rect class="envd" x="145" y="16" width="52" height="113"/>
<path class="ln" d="M0,16H197M0,129H197M145,16V129"/>
<path class="bar" d="M145,21.3h27.3v6h-27.3zM145,33.5h13.6v6h-13.6zM145,70.1h41v6h-41zM145,82.3h13.6v6h-13.6zM145,106.7h27.3v6h-27.3zM145,118.9h27.3v6h-27.3z"/>
<text class="t tb" x="98.5" y="12">Environmental quality importance</text>
<text class="t" x="6" y="27.8">1<tspan x="6" dy="12.2">2</tspan><tspan x="6" dy="12.2">3</tspan><tspan x="6" dy="12.2">4</tspan><tspan x="6" dy="12.2">5</tspan><tspan x="6" dy="12.2">6</tspan><tspan x="6" dy="12.2">7</tspan><tspan x="6" dy="12.2">8</tspan><tspan x="6" dy="12.2">9</tspan></text>
<text class="t r" x="141" y="27.8">18.2<tspan x="141" dy="12.2">9.09</tspan><tspan x="141" dy="12.2">0 +</tspan><tspan x="141" dy="12.2">0 +</tspan><tspan x="141" dy="12.2">27.3</tspan><tspan x="141" dy="12.2">9.09</tspan><tspan x="141" dy="12.2">0 +</tspan><tspan x="141" dy="12.2">18.2</tspan><tspan x="141" dy="12.2">18.2</tspan></text>
<text class="t m" x="98.5" y="141">5.36 ± 2.9</text>
<rect class="nb" width="197" height="146"/>
</g>

<g id="overall-utility" transform="translate(747,770)">
<rect width="144" height="32" fill="#f5843c"/>
<rect x="91" y="16" width="53" height="16" fill="#c8662a"/>
<path class="dl" d="M104.5,16V32M117.5,16V32M130.5,16V32"/>
<path class="ln" d="M0,16H144M91,16V32"/>
<text class="t tb" x="72" y="12">Overall Utility Value</text>
<text class="t" x="7" y="28">Value</text>
<text class="t r" x="87" y="28">-375.48</text>
<rect class="nb" width="144" height="32"/>
</g>

<g id="header-social"><rect x="121" y="8" width="315" height="44" fill="#c5d9f8" stroke="#3a3ade" stroke-width="1.5"/><text class="hd" x="278.5" y="38.5">Social Land Use Functions</text></g>
<g id="header-economic"><rect x="619" y="6" width="361" height="45" fill="#fff3c4" stroke="#f0d84a" stroke-width="1.5"/><text class="hd" x="799.5" y="37">Economic Land Use Functions</text></g>
<g id="header-environmental"><rect x="1082" y="7" width="415" height="45" fill="#cdf3cd" stroke="#66d866" stroke-width="1.5"/><text class="hd" x="1289.5" y="38">Environmental Land Use Functions</text></g>
<g id="indicator-impacts"><rect x="693" y="330" width="224" height="42" fill="#d6cff5" stroke="#9d8ae6" stroke-width="1.5"/><text class="hd" x="805" y="359.5">Indicator impacts</text></g>

<g id="stakeholder-arrow" transform="translate(399.4,931.7) rotate(-45)">
<path d="M0,-25.5 L197,-25.5 L197,-52 L278.6,0 L197,52 L197,25.5 L0,25.5 Z" fill="#cfc6f2" stroke="#7d63d6" stroke-width="1.5"/>
<rect x="-28.7" y="-25" width="16" height="50" fill="#cfc6f2" stroke="#7d63d6" stroke-width="1.5"/>
<rect x="-51.5" y="-25" width="10" height="50" fill="#cfc6f2" stroke="#7d63d6" stroke-width="1.5"/>
<text font-family="Liberation Sans, Arial, sans-serif" font-size="22" font-weight="bold" text-anchor="middle" x="117" y="-7.5">Importance assigned</text>
<text font-family="Liberation Sans, Arial, sans-serif" font-size="22" font-weight="bold" text-anchor="middle" x="117" y="23">by stakeholders</text>
</g>

<g id="row-letters">
<text class="lt" x="1539" y="107.5">A</text>
<text class="lt" x="1539" y="239.5">B</text>
<text class="lt" x="1539" y="370.5">C</text>
<text class="lt" x="1539" y="489.5">D</text>
<text class="lt" x="1539" y="539.5">E</text>
<text class="lt" x="1539" y="737.5">F</text>
<text class="lt" x="1539" y="804.5">G</text>
</g>

<g id="row-dividers">
<path class="red" d="M32,67H1581M32,133H1581M32,319H1581M32,460H1581M32,498H1581M32,548H1581M32,750H1581M32,816H1581"/>
</g>
</svg>
